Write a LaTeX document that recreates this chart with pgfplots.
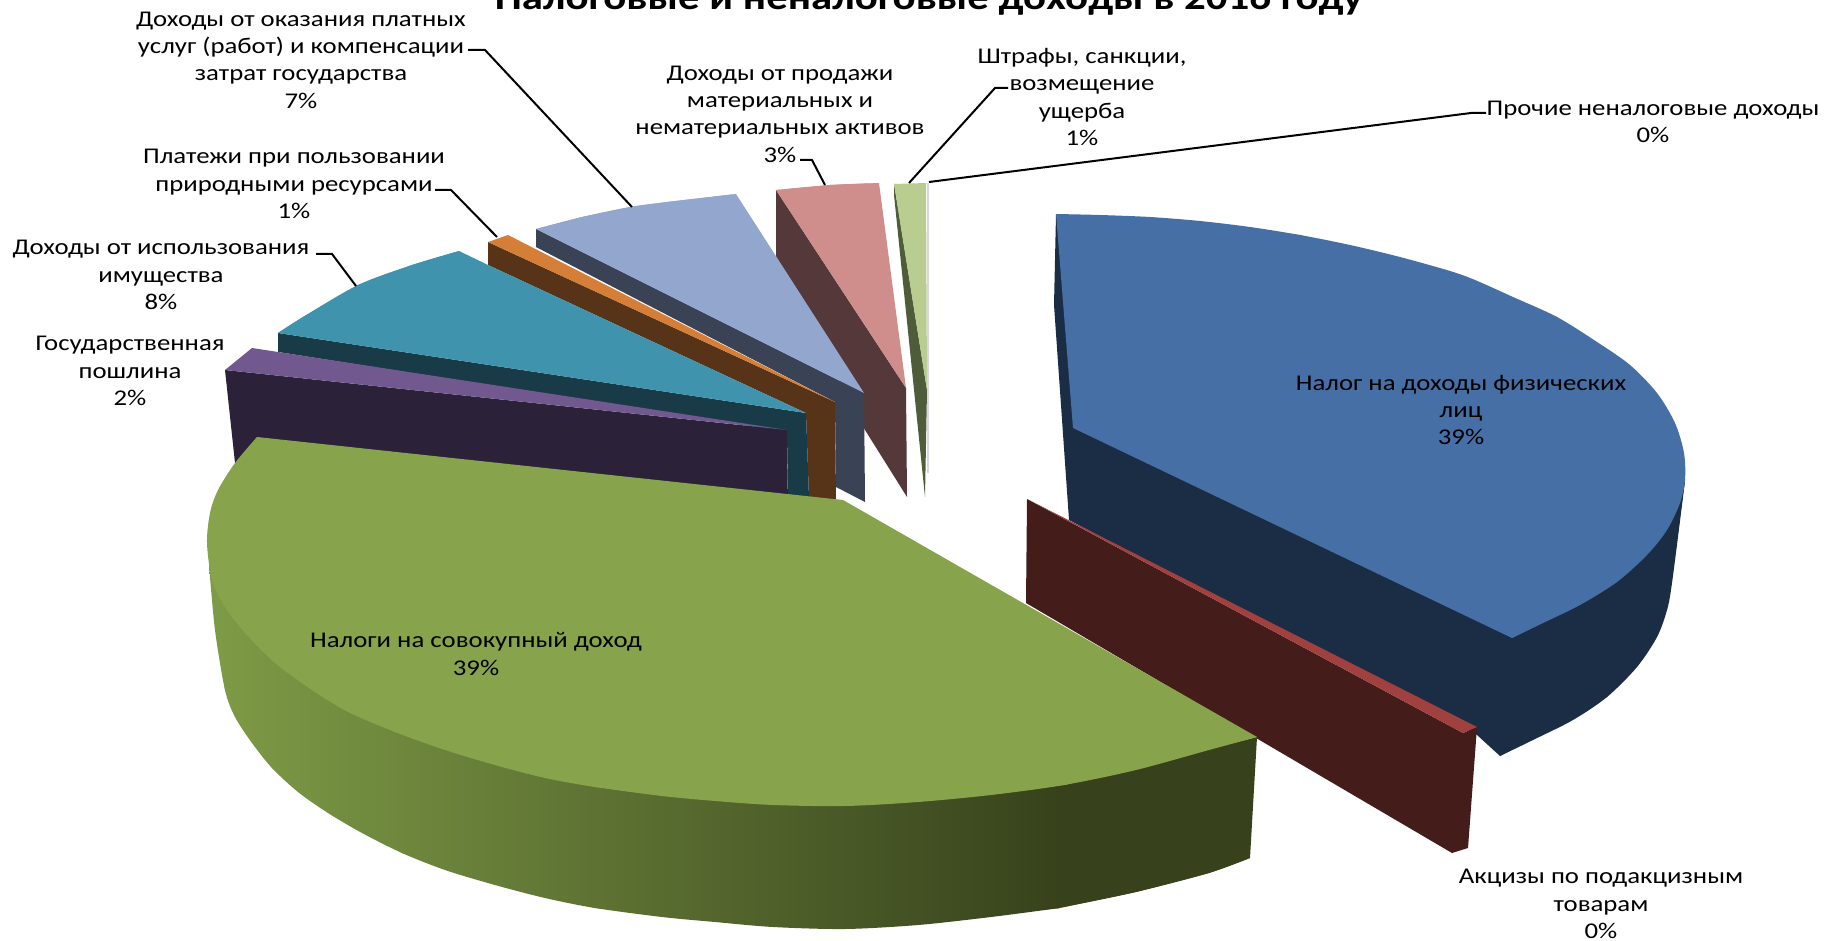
\documentclass[border=0pt]{standalone}
\usepackage{fontspec}
\setmainfont[FakeStretch=1.19]{Carlito}
\usepackage{pgfplots}
\pgfplotsset{compat=1.18}
\definecolor{bluetop}{HTML}{456FA5}
\definecolor{blueside}{HTML}{1A2D45}
\definecolor{redtop}{HTML}{A0413F}
\definecolor{redside}{HTML}{441C1A}
\definecolor{greentop}{HTML}{87A34C}
\definecolor{greenA}{HTML}{7E9B46}
\definecolor{greenM}{HTML}{5F7133}
\definecolor{greenC}{HTML}{37421C}
\definecolor{purptop}{HTML}{71588F}
\definecolor{purpside}{HTML}{2B2139}
\definecolor{tealtop}{HTML}{3F93AD}
\definecolor{tealside}{HTML}{193B48}
\definecolor{ortop}{HTML}{D57E38}
\definecolor{orside}{HTML}{573318}
\definecolor{peritop}{HTML}{92A6CE}
\definecolor{periside}{HTML}{3A4256}
\definecolor{pinktop}{HTML}{CF8D8C}
\definecolor{pinkside}{HTML}{55393A}
\definecolor{limetop}{HTML}{B9CD91}
\definecolor{limeside}{HTML}{4F5C39}
\definecolor{lav}{HTML}{D4D6E6}
\tikzset{
  lbl/.style={font=\fontsize{11.25}{13.7}\selectfont,align=center,text=black,inner sep=0pt},
  leader/.style={draw=black,line width=1pt,fill=none,mark=none},
  gshade/.style={left color=greenA,middle color=greenM,right color=greenC},
}
\begin{document}
\begin{tikzpicture}[x=1pt,y=1pt]
\path[use as bounding box,clip] (0,0) rectangle (912.5,470.5);
\begin{axis}[
  at={(0,0)},anchor=south west,
  width=912.5pt,height=470.5pt,scale only axis,
  xmin=0,xmax=1825,ymin=0,ymax=941,y dir=reverse,
  hide axis,clip=false,
  every axis plot/.append style={draw=none,mark=none,forget plot},
]
% thin last slice
\addplot[draw=lav,line width=0.8pt] coordinates {(928,183)(928,473)};
% lime
\addplot[fill=limeside] coordinates {(894,183)(894,195)(925,497)(927,390)};
\addplot[fill=limetop] coordinates {(894,184)(926,183)(927,390)};
% pink
\addplot[fill=pinkside] coordinates {(776,190)(776,257)(865,430)(907,497)(906,388)};
\addplot[fill=pinktop] coordinates {(776,190)(830,185)(879,183)(906,388)};
\addplot[fill=pinktop,smooth] coordinates {(776,190)(830,185)(879,183)};
% periwinkle
\addplot[fill=periside] coordinates {(536,229)(536,247)(835,402)(836,487)(865,502)(864,393)};
\addplot[fill=peritop] coordinates {(536,229)(582,217)(630,207)(667,202)(736,194)(864,393)};
\addplot[fill=peritop,smooth] coordinates {(536,229)(582,217)(630,207)(667,202)(736,194)};
% orange
\addplot[fill=orside] coordinates {(488,242)(835,402)(836,500)(809,498)(806,413)(488,265)};
\addplot[fill=ortop] coordinates {(488,242)(508,235)(835,402)};
% teal
\addplot[fill=tealside] coordinates {(278,333)(278,352)(787,432)(788,497)(809,498)(806,413)};
\addplot[fill=tealtop] coordinates {(278,333)(303,317)(358,285)(412,265)(459,251)(488,265)(806,413)};
\addplot[fill=tealtop,smooth] coordinates {(278,333)(303,317)(358,285)(412,265)(459,251)};
% purple
\addplot[fill=purpside] coordinates {(225,370)(235,463)(258,480)(788,510)(787,430)};
\addplot[fill=purptop] coordinates {(252,348)(225,370)(787,430)};
% blue
\addplot[fill=blueside] coordinates {(1056,214)(1054,305)(1069,520)(1477,735)(1500,756)(1607,697)(1667,610)(1685,480)};
\addplot[fill=blueside,smooth] coordinates {(1685,480)(1683,497)(1672,583)(1667,610)(1657,637)(1637,667)(1607,697)(1573,720)(1533,740)(1500,756)};
\addplot[fill=bluetop] coordinates {(1073,428)(1056,214)(1300,235)(1557,317)(1684,453)(1617,582)(1512,638)};
\addplot[fill=bluetop,smooth] coordinates {(1056,214)(1100,215)(1150,217)(1200,221)(1250,227)(1300,235)(1350,245)(1400,257)(1450,271)(1475,280)(1513,297)(1557,317)(1597,342)(1630,365)(1657,393)(1675,423)(1684,453)(1685,480)(1680,503)(1667,530)(1647,555)(1617,582)(1580,605)(1543,623)(1512,638)};
% excise
\addplot[fill=redside] coordinates {(1027,499)(1463,733)(1477,727)(1468,848)(1452,853)(1026,603)};
\addplot[fill=redtop] coordinates {(1027,499)(1477,727)(1463,733)};
% green sides
\addplot[gshade] coordinates {(209,565)(1060,780)(1060,908)(845,929)(595,908)(402,853)(272,768)(225,690)} --cycle;
\addplot[gshade,smooth] coordinates {(209,565)(215,630)(225,690)(235,717)(252,743)(272,768)(298,792)(328,813)(362,833)(402,853)(445,870)(495,885)(545,898)(595,908)(662,917)(715,922)(773,927)(845,929)(918,925)(991,917)(1060,908)} --cycle;
\addplot[fill=greenC] coordinates {(1058,780)(1064,785)(1257,737)(1250,858)(1209,873)(1136,892)(1064,907)(1058,908)};
\addplot[fill=greenC,smooth] coordinates {(1058,908)(1064,907)(1136,892)(1209,873)(1250,858)};
% green top
\addplot[fill=greentop] coordinates {(257,437)(843,500)(1257,737)(1064,785)(845,806)(595,787)(395,732)(245,633)(207,543)};
\addplot[fill=greentop,smooth] coordinates {(257,437)(235,463)(218,490)(210,513)(207,543)(212,580)(225,607)(245,633)(275,663)(312,690)(348,712)(395,732)(445,750)(495,765)(545,778)(595,787)(662,796)(715,801)(773,805)(845,806)(918,802)(991,795)(1064,785)(1136,770)(1209,750)(1257,737)};
% leaders
\addplot[leader] coordinates {(929,182)(1471,113)(1486,113)};
\addplot[leader] coordinates {(909,183)(995,88)(1008,88)};
\addplot[leader] coordinates {(825,185)(812,160)(800,160)};
\addplot[leader] coordinates {(632,207)(485,50)(468,50)};
\addplot[leader] coordinates {(497,237)(451,190)(435,190)};
\addplot[leader] coordinates {(356,286)(332,254)(316,254)};
% labels
\node[anchor=base,inner sep=0pt,font=\fontsize{18}{22}\selectfont\bfseries] at (929,10) {Налоговые и неналоговые доходы в 2016 году};
\node[lbl] at (301,60) {Доходы от оказания платных\\услуг (работ) и компенсации\\затрат государства\\7\%};
\node[lbl] at (780,114) {Доходы от продажи\\материальных и\\нематериальных активов\\3\%};
\node[lbl] at (294,184) {Платежи при пользовании\\природными ресурсами\\1\%};
\node[lbl] at (161,275) {Доходы от использования\\имущества\\8\%};
\node[lbl] at (130,371) {Государственная\\пошлина\\2\%};
\node[lbl] at (1082,97) {Штрафы, санкции,\\возмещение\\ущерба\\1\%};
\node[lbl] at (1653,122) {Прочие неналоговые доходы\\0\%};
\node[lbl] at (1461,410) {Налог на доходы физических\\лиц\\39\%};
\node[lbl] at (476,654) {Налоги на совокупный доход\\39\%};
\node[lbl] at (1601,904) {Акцизы по подакцизным\\товарам\\0\%};
\end{axis}
\end{tikzpicture}
\end{document}
